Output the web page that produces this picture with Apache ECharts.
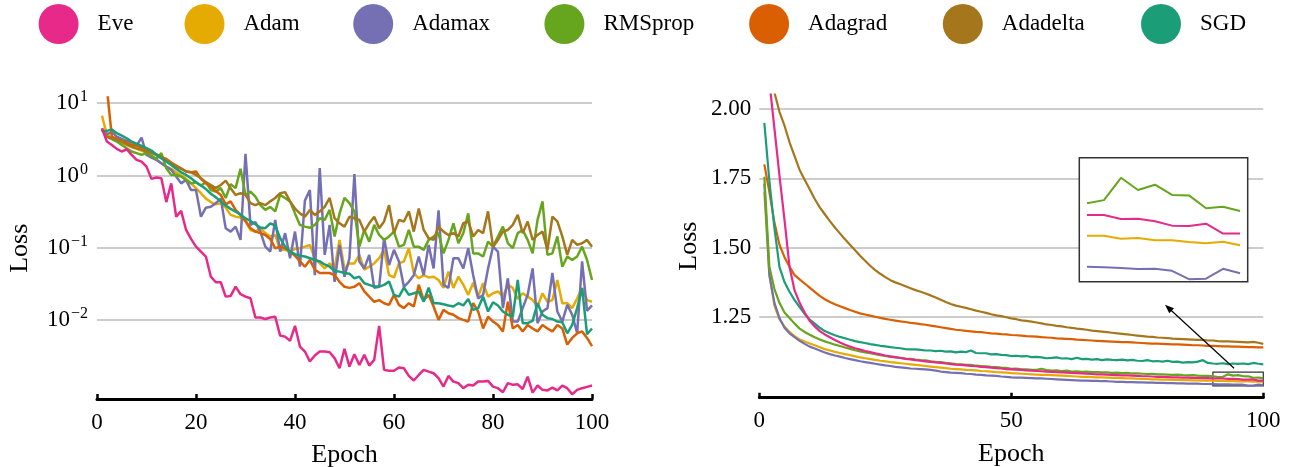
<!DOCTYPE html>
<html><head><meta charset="utf-8">
<script src="https://cdn.jsdelivr.net/npm/echarts@6/dist/echarts.min.js"></script>
<style>html,body{margin:0;padding:0;background:#fff}#c{width:1293px;height:467px}</style>
</head><body><div id="c"></div>
<script>
const names = ['Eve','Adam','Adamax','RMSprop','Adagrad','Adadelta','SGD'];
const colors = {Eve:'#e7298a',Adam:'#e6ab02',Adamax:'#7570b3',RMSprop:'#66a61e',Adagrad:'#d95f02',Adadelta:'#a6761d',SGD:'#1b9e77'};
const epochs = Array.from({length:100},(_,i)=>i+1);

// left panel (log scale)
const leftEve = [4.5,2.95,2.65,2.34,2.15,2.31,1.93,1.65,1.56,1.33, 0.90,0.94,0.92,0.43,0.78,0.27,0.325,0.177,0.133,0.104, 0.089,0.076,0.040,0.0335,0.0335,0.0212,0.0217,0.0292,0.0229,0.0212, 0.0201,0.0109,0.0109,0.0104,0.0109,0.0112,0.00614,0.00594,0.00518,0.00836, 0.00433,0.00369,0.00269,0.00325,0.00369,0.00369,0.00361,0.00299,0.00217,0.00402, 0.00229,0.00339,0.00241,0.00332,0.00236,0.00283,0.00836,0.00206,0.00201,0.00200, 0.00222,0.00217,0.00170,0.00147,0.00175,0.00206,0.00195,0.00185,0.00158,0.00121, 0.00170,0.00142,0.00135,0.00115,0.00128,0.00125,0.00142,0.00142,0.00145,0.00121, 0.00115,0.00101,0.00135,0.00128,0.00130,0.00112,0.00166,0.00100,0.00125,0.00109, 0.00107,0.00117,0.00107,0.00125,0.00115,0.00095,0.00109,0.00115,0.00120,0.00125];
const leftAdam = [6.75,3.65,3.35,3.11,2.80,2.65,2.47,2.34,2.22,2.04, 1.83,1.65,1.48,1.33,1.24,1.11,1.0,0.90,0.78,0.67, 0.57,0.48,0.43,0.40,0.415,0.36,0.286,0.27,0.264,0.232, 0.177,0.168,0.187,0.160,0.144,0.151,0.094,0.094,0.089,0.097, 0.099,0.104,0.110,0.072,0.061,0.052,0.061,0.052,0.129,0.051, 0.061,0.061,0.080,0.050,0.055,0.061,0.072,0.094,0.042,0.039, 0.061,0.065,0.099,0.045,0.038,0.042,0.039,0.040,0.036,0.028, 0.047,0.028,0.040,0.031,0.0224,0.033,0.0212,0.0325,0.0212,0.0236, 0.025,0.0212,0.031,0.028,0.0197,0.0236,0.0212,0.019,0.0155,0.0236, 0.018,0.019,0.036,0.0172,0.0172,0.0147,0.020,0.028,0.019,0.018];
const leftAdamax = [4.28,3.73,3.97,3.46,3.22,3.02,2.89,2.60,3.35,1.93, 1.77,1.65,1.48,1.33,1.20,0.97,0.78,0.87,0.63,0.63, 0.27,0.36,0.37,0.415,0.48,0.187,0.168,0.197,0.129,2.0, 0.208,0.227,0.168,0.104,0.089,0.244,0.089,0.160,0.072,0.168, 0.055,0.45,0.63,0.042,1.27,0.080,0.208,0.034,0.110,0.040, 0.072,1.05,0.065,0.052,0.080,0.028,0.029,0.136,0.058,0.094, 0.065,0.029,0.034,0.042,0.076,0.042,0.110,0.052,0.33,0.031, 0.028,0.072,0.072,0.052,0.099,0.042,0.020,0.0224,0.052,0.104, 0.089,0.0147,0.038,0.0096,0.0096,0.0147,0.0224,0.052,0.0091,0.0132, 0.0147,0.045,0.0132,0.0096,0.0163,0.0119,0.0066,0.065,0.0135,0.016];
const leftRMSprop = [4.51,3.46,3.18,2.95,2.65,2.39,2.15,2.04,1.93,2.04, 1.89,1.70,2.04,1.26,1.02,1.02,0.97,0.87,0.78,0.81, 0.73,0.81,0.63,0.60,0.67,0.49,0.76,0.67,1.24,0.54, 0.60,0.51,0.39,0.335,0.37,0.32,0.54,0.49,0.44,0.30, 0.208,0.197,0.19,0.208,0.257,0.244,0.335,0.144,0.30,0.49, 0.415,0.32,0.104,0.177,0.122,0.208,0.151,0.129,0.144,0.168, 0.104,0.110,0.177,0.104,0.104,0.094,0.129,0.144,0.160,0.084, 0.129,0.219,0.116,0.160,0.30,0.084,0.084,0.076,0.122,0.104, 0.144,0.197,0.116,0.099,0.160,0.177,0.129,0.084,0.244,0.44, 0.080,0.084,0.144,0.055,0.076,0.068,0.076,0.104,0.068,0.036];
const leftAdagrad = [60,16,3.46,3.22,3.02,2.86,2.65,2.60,2.44,2.32, 2.15,1.97,1.81,1.70,1.51,1.37,1.26,1.14,1.11,1.14, 0.90,0.78,0.70,0.61,0.54,0.40,0.44,0.335,0.286,0.237, 0.187,0.168,0.160,0.151,0.133,0.099,0.104,0.099,0.089,0.078, 0.065,0.055,0.068,0.050,0.045,0.045,0.045,0.042,0.034,0.029, 0.028,0.029,0.0325,0.025,0.0212,0.018,0.019,0.0172,0.0163,0.0224, 0.0163,0.0147,0.0172,0.0155,0.031,0.019,0.0224,0.0155,0.0101,0.0139, 0.0125,0.0119,0.0107,0.0101,0.0096,0.0172,0.0132,0.0077,0.0112,0.0096, 0.0086,0.0070,0.018,0.0077,0.0086,0.0070,0.0086,0.0077,0.0070,0.0086, 0.0077,0.0070,0.0086,0.0077,0.0046,0.0057,0.0066,0.0070,0.0057,0.0044];
const leftAdadelta = [4.28,3.46,3.28,3.11,2.95,2.71,2.52,2.39,2.27,2.15, 2.04,1.93,1.74,1.59,1.48,1.33,1.24,1.14,1.11,1.02, 0.92,0.81,0.74,0.67,0.74,0.85,0.67,0.54,0.57,0.54, 0.415,0.39,0.415,0.39,0.44,0.49,0.57,0.59,0.44,0.35, 0.30,0.27,0.335,0.286,0.32,0.37,0.49,0.257,0.219,0.197, 0.27,0.257,0.244,0.168,0.219,0.27,0.187,0.232,0.39,0.160, 0.244,0.232,0.32,0.168,0.35,0.177,0.136,0.129,0.197,0.168, 0.151,0.160,0.144,0.219,0.232,0.144,0.177,0.160,0.32,0.104, 0.129,0.168,0.177,0.208,0.286,0.160,0.232,0.129,0.151,0.168, 0.094,0.27,0.232,0.144,0.080,0.129,0.110,0.116,0.129,0.104];
const leftSGD = [4.06,4.15,4.33,3.85,3.57,3.28,2.95,2.77,2.57,2.39, 2.22,1.93,1.74,1.56,1.40,1.24,1.11,1.02,0.92,0.81, 0.73,0.65,0.56,0.50,0.44,0.385,0.346,0.318,0.286,0.257, 0.236,0.212,0.191,0.187,0.219,0.204,0.136,0.104,0.089,0.082, 0.078,0.076,0.072,0.068,0.065,0.059,0.055,0.048,0.047,0.045, 0.044,0.038,0.040,0.0325,0.0308,0.0292,0.0292,0.0308,0.0343,0.0224, 0.0212,0.0283,0.0224,0.0236,0.0249,0.0181,0.0283,0.0172,0.0172,0.0166, 0.0160,0.0155,0.0172,0.0160,0.0197,0.0139,0.0147,0.0212,0.0132,0.0177, 0.0160,0.0132,0.0119,0.0112,0.0361,0.0091,0.0091,0.0098,0.0172,0.0119, 0.0107,0.0104,0.0096,0.0094,0.0066,0.0086,0.0147,0.0277,0.0064,0.0077];

// right panel (linear)
const rightEve = [2.55,2.1,1.93,1.76,1.6,1.43,1.345,1.3,1.265,1.235, 1.215,1.198,1.186,1.176,1.166,1.157,1.149,1.142,1.136,1.131, 1.126,1.122,1.118,1.114,1.11,1.107,1.104,1.101,1.098,1.096, 1.093,1.091,1.089,1.087,1.085,1.083,1.081,1.079,1.077,1.076, 1.074,1.072,1.071,1.069,1.068,1.066,1.064,1.063,1.061,1.06, 1.059,1.058,1.056,1.055,1.054,1.053,1.052,1.051,1.05,1.049, 1.048,1.047,1.046,1.045,1.044,1.043,1.042,1.042,1.041,1.04, 1.039,1.038,1.038,1.037,1.036,1.035,1.035,1.034,1.033,1.033, 1.032,1.031,1.031,1.03,1.03,1.029,1.029,1.028,1.028,1.027, 1.0269,1.0269,1.0253,1.0254,1.0244,1.0226,1.0225,1.0234,1.0194,1.0194];
const rightAdam = [1.70,1.40,1.29,1.24,1.215,1.195,1.18,1.168,1.16,1.153, 1.147,1.14,1.133,1.128,1.123,1.119,1.115,1.111,1.107,1.103, 1.1,1.097,1.094,1.091,1.089,1.086,1.084,1.082,1.08,1.078, 1.076,1.074,1.072,1.07,1.068,1.066,1.064,1.062,1.061,1.06, 1.058,1.057,1.056,1.054,1.053,1.052,1.05,1.049,1.048,1.046, 1.045,1.044,1.043,1.042,1.041,1.04,1.04,1.039,1.038,1.037, 1.036,1.035,1.034,1.033,1.033,1.032,1.031,1.031,1.03,1.029, 1.029,1.028,1.027,1.027,1.026,1.025,1.025,1.024,1.024,1.023, 1.023,1.022,1.022,1.021,1.021,1.02,1.02,1.019,1.019,1.019, 1.0185,1.0185,1.0173,1.0176,1.0167,1.0167,1.016,1.0155,1.0161,1.0147];
const rightAdamax = [1.73,1.40,1.30,1.245,1.21,1.19,1.176,1.163,1.152,1.142, 1.135,1.128,1.121,1.115,1.11,1.106,1.101,1.097,1.093,1.089, 1.086,1.083,1.08,1.077,1.074,1.072,1.069,1.067,1.065,1.063, 1.062,1.061,1.06,1.058,1.055,1.052,1.05,1.048,1.047,1.046, 1.044,1.043,1.041,1.04,1.038,1.037,1.036,1.034,1.033,1.031, 1.03,1.03,1.029,1.028,1.027,1.027,1.026,1.025,1.024,1.023, 1.022,1.021,1.02,1.019,1.019,1.018,1.018,1.017,1.017,1.016, 1.015,1.015,1.014,1.014,1.013,1.013,1.012,1.012,1.011,1.011, 1.01,1.01,1.009,1.009,1.008,1.008,1.008,1.007,1.007,1.0065, 1.006,1.0058,1.0055,1.0051,1.0052,1.0044,1.001,1.0012,1.0052,1.0034];
const rightRMSprop = [1.756,1.43,1.35,1.30,1.265,1.245,1.225,1.207,1.195,1.185, 1.176,1.168,1.161,1.155,1.149,1.144,1.139,1.134,1.129,1.125, 1.121,1.118,1.115,1.111,1.108,1.105,1.103,1.101,1.099,1.098, 1.095,1.093,1.092,1.089,1.087,1.086,1.083,1.082,1.079,1.078, 1.076,1.076,1.073,1.072,1.071,1.069,1.068,1.066,1.065,1.062, 1.063,1.06,1.06,1.058,1.058,1.062,1.057,1.055,1.056,1.054, 1.055,1.052,1.053,1.051,1.052,1.05,1.05,1.049,1.049,1.047, 1.048,1.046,1.047,1.045,1.045,1.044,1.043,1.044,1.042,1.042, 1.041,1.04,1.041,1.039,1.038,1.039,1.037,1.036,1.036,1.035, 1.0316,1.0329,1.0419,1.037,1.0391,1.035,1.0348,1.0296,1.0302,1.0285];
const rightAdagrad = [1.80,1.70,1.59,1.51,1.465,1.43,1.40,1.385,1.37,1.355, 1.34,1.325,1.313,1.303,1.295,1.288,1.281,1.274,1.268,1.262, 1.258,1.254,1.25,1.246,1.242,1.239,1.236,1.233,1.231,1.228, 1.226,1.223,1.221,1.218,1.215,1.212,1.209,1.206,1.203,1.201, 1.199,1.197,1.195,1.194,1.192,1.19,1.189,1.187,1.186,1.184, 1.183,1.182,1.18,1.179,1.178,1.176,1.175,1.174,1.172,1.171, 1.17,1.169,1.167,1.166,1.165,1.164,1.163,1.162,1.161,1.16, 1.159,1.158,1.158,1.157,1.156,1.155,1.154,1.153,1.153,1.152, 1.151,1.15,1.15,1.149,1.148,1.147,1.147,1.146,1.145,1.145, 1.144,1.143,1.143,1.142,1.142,1.141,1.14,1.14,1.139,1.139];
const rightAdadelta = [2.55,2.26,2.06,1.99,1.94,1.88,1.83,1.78,1.745,1.71, 1.675,1.645,1.62,1.595,1.572,1.551,1.53,1.51,1.49,1.47, 1.452,1.434,1.418,1.405,1.393,1.382,1.374,1.367,1.36,1.353, 1.346,1.34,1.334,1.327,1.319,1.311,1.303,1.296,1.29,1.286, 1.282,1.277,1.272,1.268,1.264,1.259,1.255,1.252,1.248,1.244, 1.241,1.237,1.235,1.232,1.229,1.226,1.222,1.22,1.217,1.215, 1.212,1.21,1.207,1.205,1.203,1.2,1.198,1.196,1.194,1.192, 1.19,1.188,1.186,1.184,1.182,1.18,1.178,1.177,1.175,1.174, 1.173,1.171,1.17,1.169,1.168,1.167,1.166,1.166,1.164,1.164, 1.162,1.161,1.161,1.16,1.159,1.158,1.157,1.159,1.156,1.152];
const rightSGD = [1.95,1.74,1.57,1.43,1.375,1.34,1.31,1.285,1.26,1.24, 1.225,1.21,1.198,1.19,1.183,1.177,1.172,1.167,1.162,1.158, 1.155,1.151,1.148,1.145,1.143,1.14,1.138,1.136,1.133,1.132, 1.132,1.13,1.128,1.128,1.126,1.127,1.124,1.125,1.121,1.124, 1.122,1.128,1.119,1.118,1.118,1.114,1.115,1.112,1.111,1.108, 1.109,1.107,1.108,1.104,1.105,1.103,1.1,1.101,1.103,1.099, 1.1,1.097,1.102,1.097,1.098,1.095,1.097,1.093,1.096,1.094, 1.093,1.095,1.092,1.094,1.091,1.09,1.093,1.089,1.09,1.088, 1.091,1.087,1.088,1.084,1.086,1.085,1.088,1.093,1.083,1.081, 1.08,1.082,1.079,1.081,1.08,1.081,1.079,1.083,1.08,1.078];

const leftXTicks = [0,20,40,60,80,100];
const leftYTicks = [0.01,0.1,1,10];
const rightXTicks = [0,50,100];
const rightYTicks = [1.25,1.5,1.75,2.0];
const insetEpochs = [91,100];         // zoomed window (epochs)
const insetLoss = [1.0,1.05];         // zoomed window (loss)

const leftData = {Eve:leftEve,Adam:leftAdam,Adamax:leftAdamax,RMSprop:leftRMSprop,Adagrad:leftAdagrad,Adadelta:leftAdadelta,SGD:leftSGD};
const rightData = {Eve:rightEve,Adam:rightAdam,Adamax:rightAdamax,RMSprop:rightRMSprop,Adagrad:rightAdagrad,Adadelta:rightAdadelta,SGD:rightSGD};
const drawOrder = ['Adam','Adamax','RMSprop','Adagrad','Adadelta','SGD','Eve'];

const FONT = 'Liberation Serif';
const pair = arr => arr.map((v,i)=>[epochs[i], v]);

const series = [];
drawOrder.forEach(n => {
  series.push({name:n, type:'line', xAxisIndex:0, yAxisIndex:0, data:pair(leftData[n]), color:colors[n],
    showSymbol:false, symbol:'none', lineStyle:{width:2.5, color:colors[n]}, z:2});
});
drawOrder.forEach(n => {
  const s = {name:n, type:'line', xAxisIndex:1, yAxisIndex:1, data:pair(rightData[n]), color:colors[n],
    showSymbol:false, symbol:'none', lineStyle:{width:2.2, color:colors[n]}, z:2};
  if (n === 'Eve') {
    s.markArea = {silent:true, itemStyle:{color:'rgba(0,0,0,0)', borderColor:'#333', borderWidth:1.2},
      label:{show:false}, data:[[{coord:[90, insetLoss[0]]},{coord:[100, insetLoss[1]]}]]};
    s.markLine = {silent:true, symbol:['none','triangle'], symbolSize:[7,9], label:{show:false},
      lineStyle:{color:'#000', width:1.2, type:'solid'},
      data:[[{coord:[94.2,1.0637]},{coord:[81.15,1.2825]}]]};
  }
  series.push(s);
});
['Adam','Adamax','RMSprop','Eve'].forEach(n => {
  series.push({name:n, type:'line', xAxisIndex:2, yAxisIndex:2,
    data:pair(rightData[n]).filter(p => p[0] >= insetEpochs[0] && p[0] <= insetEpochs[1]),
    color:colors[n], showSymbol:false, symbol:'none', lineStyle:{width:2, color:colors[n]}, z:5});
});

const legends = [];
const legendLeft = {Eve:38.6, Adam:184.5, Adamax:353.2, RMSprop:544.4, Adagrad:749.1, Adadelta:942.8, SGD:1141};
names.forEach(n => {
  legends.push({data:[n], left:legendLeft[n], top:4, padding:0, itemGap:0, itemWidth:41, itemHeight:40,
    selectedMode:false, icon:'circle',
    textStyle:{fontFamily:FONT, fontSize:23, color:'#000', padding:[0,0,0,13.5]}});
});

const axisX = (gi, ticks, name) => ({
  gridIndex:gi, type:'value', min:ticks[0], max:ticks[ticks.length-1], interval:ticks[1]-ticks[0],
  axisLine:{show:true, lineStyle:{color:'#000', width:3}},
  axisTick:{show:true, inside:true, length:5, lineStyle:{color:'#000', width:2.5}},
  axisLabel:{color:'#000', fontFamily:FONT, fontSize:23, margin:12},
  splitLine:{show:false},
  name:name, nameLocation:'middle', nameGap:43,
  nameTextStyle:{fontFamily:FONT, fontSize:26, color:'#000'}
});

const option = {
  animation:false,
  backgroundColor:'#fff',
  legend:legends,
  grid:[
    {left:97, right:701, top:97.5, bottom:68, outerBoundsMode:'none', containLabel:false},
    {left:759.3, right:29.7, top:94.5, bottom:69.3, outerBoundsMode:'none', containLabel:false},
    {left:1079.3, top:157.7, width:168.4, height:124, show:true, borderColor:'#333', borderWidth:1.5, backgroundColor:'#fff', z:3, outerBoundsMode:'none', containLabel:false}
  ],
  xAxis:[
    axisX(0, leftXTicks, 'Epoch'),
    axisX(1, rightXTicks, 'Epoch'),
    {gridIndex:2, type:'value', min:90.55, max:100.45, show:false, z:4}
  ],
  yAxis:[
    {gridIndex:0, type:'log', logBase:10, min:0.000815, max:12,
     axisLine:{show:false}, axisTick:{show:false, customValues:leftYTicks},
     axisLabel:{customValues:leftYTicks, margin:9,
       formatter: v => { const e = Math.round(Math.log10(v)); return '{b|10}{s|' + (e < 0 ? '\u2212' + (-e) : e) + '}'; },
       rich:{b:{fontFamily:FONT, fontSize:23, color:'#000', lineHeight:30},
             s:{fontFamily:FONT, fontSize:16, color:'#000', lineHeight:18, padding:[0,0,12,1]}}},
     splitLine:{show:true, lineStyle:{color:'#cccccc', width:2}},
     name:'Loss', nameLocation:'middle', nameGap:64,
     nameTextStyle:{fontFamily:FONT, fontSize:26, color:'#000'}},
    {gridIndex:1, type:'value', min:0.9575, max:2.0525,
     axisLine:{show:false}, axisTick:{show:false, customValues:rightYTicks},
     axisLabel:{customValues:rightYTicks, margin:8, color:'#000', fontFamily:FONT, fontSize:23,
       formatter: v => v.toFixed(2)},
     splitLine:{show:true, lineStyle:{color:'#cccccc', width:2}},
     name:'Loss', nameLocation:'middle', nameGap:57,
     nameTextStyle:{fontFamily:FONT, fontSize:26, color:'#000'}},
    {gridIndex:2, type:'value', min:insetLoss[0], max:insetLoss[1], show:false, z:4}
  ],
  series:series
};
const chart = echarts.init(document.getElementById('c'), null, {renderer:'canvas'});
chart.setOption(option);
</script>
</body></html>
